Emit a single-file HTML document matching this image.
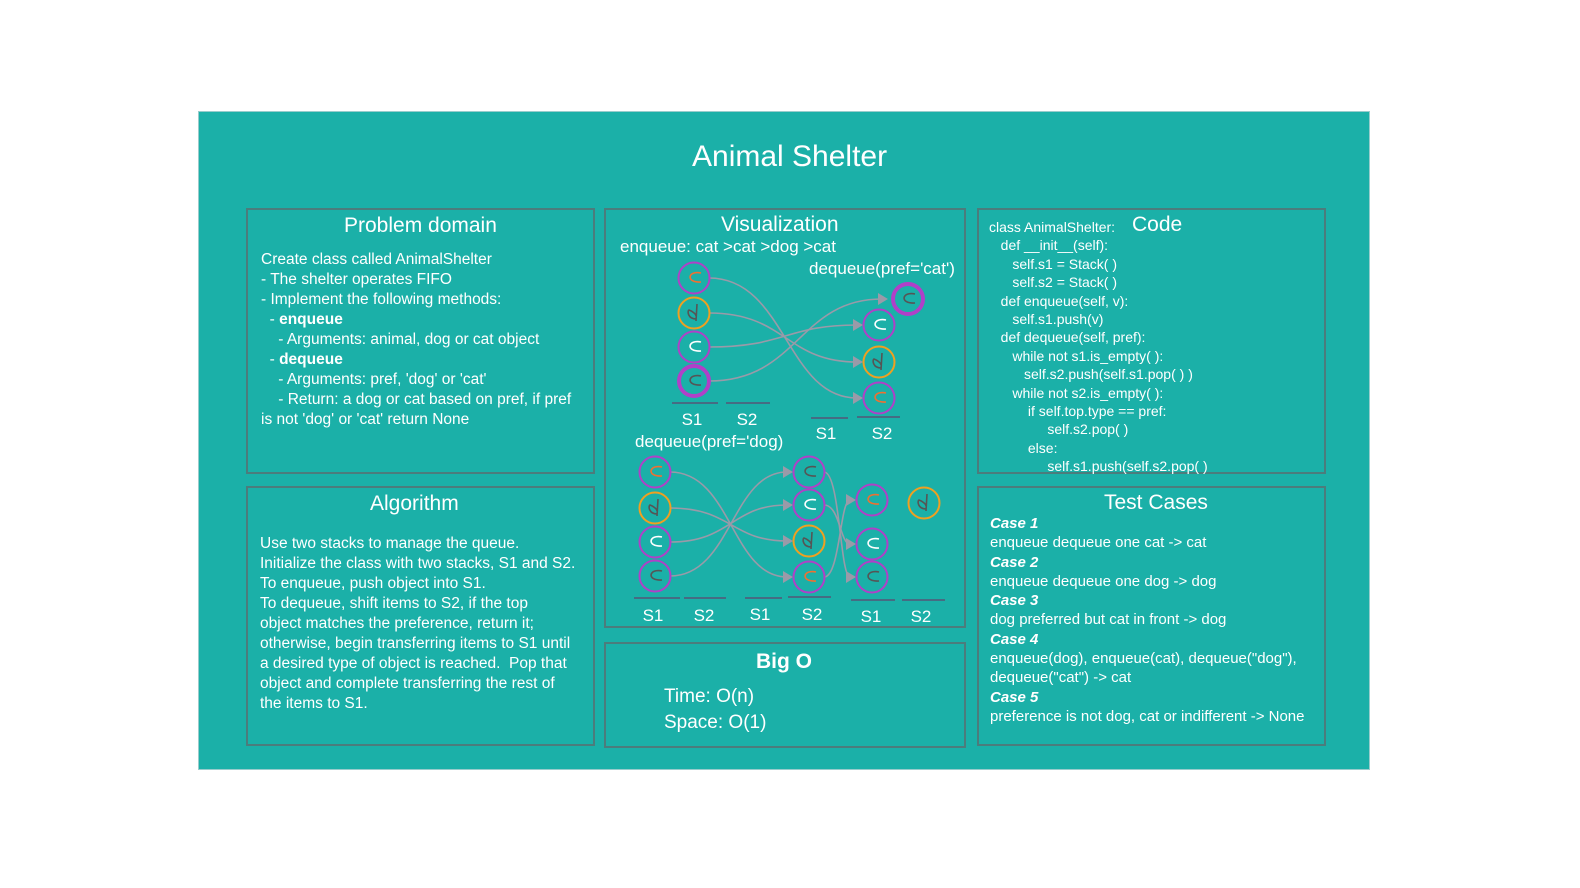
<!DOCTYPE html>
<html><head><meta charset="utf-8"><style>
html,body{margin:0;padding:0;width:1580px;height:888px;overflow:hidden}
body{background:#fff;position:relative;font-family:"Liberation Sans",sans-serif;color:#fff}
#board{position:absolute;left:198px;top:111px;width:1172px;height:659px;background:#1bb0a8;border:1px solid #9cc;box-sizing:border-box}
.box{position:absolute;border:2px solid #4c7c7c;box-sizing:border-box}
.t{position:absolute;font-size:21px;white-space:nowrap}
.p{position:absolute;font-size:15.5px;line-height:20px;white-space:nowrap}
svg{position:absolute;left:0;top:0}
</style></head><body>
<div id="board">
<div class="t" style="left:493px;top:28px;font-size:30px">Animal Shelter</div>
</div>
<div class="box" style="left:246px;top:208px;width:349px;height:266px"></div>
<div class="t" style="left:344px;top:214px">Problem domain</div>
<div class="p" style="left:261px;top:250px">Create class called AnimalShelter<br>- The shelter operates FIFO<br>- Implement the following methods:<br>&nbsp;&nbsp;- <b>enqueue</b><br>&nbsp;&nbsp;&nbsp;&nbsp;- Arguments: animal, dog or cat object<br>&nbsp;&nbsp;- <b>dequeue</b><br>&nbsp;&nbsp;&nbsp;&nbsp;- Arguments: pref, 'dog' or 'cat'<br>&nbsp;&nbsp;&nbsp;&nbsp;- Return: a dog or cat based on pref, if pref<br>is not 'dog' or 'cat' return None</div>
<div class="box" style="left:246px;top:486px;width:349px;height:260px"></div>
<div class="t" style="left:370px;top:492px">Algorithm</div>
<div class="p" style="left:260px;top:534px">Use two stacks to manage the queue.<br>Initialize the class with two stacks, S1 and S2.<br>To enqueue, push object into S1.<br>To dequeue, shift items to S2, if the top<br>object matches the preference, return it;<br>otherwise, begin transferring items to S1 until<br>a desired type of object is reached.&nbsp; Pop that<br>object and complete transferring the rest of<br>the items to S1.</div>
<div class="box" style="left:604px;top:208px;width:362px;height:420px"></div>
<div class="t" style="left:721px;top:213px">Visualization</div>
<div class="p" style="left:620px;top:237px;font-size:17px">enqueue: cat &gt;cat &gt;dog &gt;cat</div>
<div class="p" style="left:809px;top:259px;font-size:17px">dequeue(pref='cat')</div>
<div class="p" style="left:635px;top:432px;font-size:17px">dequeue(pref='dog)</div>
<div class="box" style="left:604px;top:642px;width:362px;height:106px"></div>
<div class="t" style="left:756px;top:650px;font-weight:bold">Big O</div>
<div class="p" style="left:664px;top:684px;font-size:19px;line-height:26px">Time: O(n)<br>Space: O(1)</div>
<div class="box" style="left:977px;top:208px;width:349px;height:266px"></div>
<div class="t" style="left:1132px;top:213px">Code</div>
<div class="p" style="left:989px;top:218px;font-size:14px;line-height:18.4px">class AnimalShelter:<br>&nbsp;&nbsp;&nbsp;def __init__(self):<br>&nbsp;&nbsp;&nbsp;&nbsp;&nbsp;&nbsp;self.s1 = Stack( )<br>&nbsp;&nbsp;&nbsp;&nbsp;&nbsp;&nbsp;self.s2 = Stack( )<br>&nbsp;&nbsp;&nbsp;def enqueue(self, v):<br>&nbsp;&nbsp;&nbsp;&nbsp;&nbsp;&nbsp;self.s1.push(v)<br>&nbsp;&nbsp;&nbsp;def dequeue(self, pref):<br>&nbsp;&nbsp;&nbsp;&nbsp;&nbsp;&nbsp;while not s1.is_empty( ):<br>&nbsp;&nbsp;&nbsp;&nbsp;&nbsp;&nbsp;&nbsp;&nbsp;&nbsp;self.s2.push(self.s1.pop( ) )<br>&nbsp;&nbsp;&nbsp;&nbsp;&nbsp;&nbsp;while not s2.is_empty( ):<br>&nbsp;&nbsp;&nbsp;&nbsp;&nbsp;&nbsp;&nbsp;&nbsp;&nbsp;&nbsp;if self.top.type == pref:<br>&nbsp;&nbsp;&nbsp;&nbsp;&nbsp;&nbsp;&nbsp;&nbsp;&nbsp;&nbsp;&nbsp;&nbsp;&nbsp;&nbsp;&nbsp;self.s2.pop( )<br>&nbsp;&nbsp;&nbsp;&nbsp;&nbsp;&nbsp;&nbsp;&nbsp;&nbsp;&nbsp;else:<br>&nbsp;&nbsp;&nbsp;&nbsp;&nbsp;&nbsp;&nbsp;&nbsp;&nbsp;&nbsp;&nbsp;&nbsp;&nbsp;&nbsp;&nbsp;self.s1.push(self.s2.pop( )</div>
<div class="box" style="left:977px;top:486px;width:349px;height:260px"></div>
<div class="t" style="left:1104px;top:491px">Test Cases</div>
<div class="p" style="left:990px;top:514px;line-height:19.3px;font-size:15px"><b><i>Case 1</i></b><br>enqueue dequeue one cat -&gt; cat<br><b><i>Case 2</i></b><br>enqueue dequeue one dog -&gt; dog<br><b><i>Case 3</i></b><br>dog preferred but cat in front -&gt; dog<br><b><i>Case 4</i></b><br>enqueue(dog), enqueue(cat), dequeue("dog"),<br>dequeue("cat") -&gt; cat<br><b><i>Case 5</i></b><br>preference is not dog, cat or indifferent -&gt; None</div>
<svg id="viz" width="1580" height="888"></svg>
<script>
const NS='http://www.w3.org/2000/svg';
const svg=document.getElementById('viz');
function el(t,a){const e=document.createElementNS(NS,t);for(const k in a)e.setAttribute(k,a[k]);svg.appendChild(e);return e;}
// animals: [x,y,type,iconColor,thick]
const animals=[
[694,278,'cat','#f07030',0],[694,313,'dog','#555',0],[694,347,'cat','#fff',0],[694,381,'cat','#555',1],
[908,299,'cat','#555',1],[879,325,'cat','#fff',0],[879,362,'dog','#555',0],[879,398,'cat','#f07030',0],
[655,472,'cat','#f07030',0],[655,508,'dog','#555',0],[655,542,'cat','#fff',0],[655,576,'cat','#555',0],
[809,472,'cat','#555',0],[809,505,'cat','#fff',0],[809,541,'dog','#555',0],[809,577,'cat','#f07030',0],
[872,500,'cat','#f07030',0],[872,544,'cat','#fff',0],[872,577,'cat','#555',0],[924,503,'dog','#555',0]];
const links=[[0,7],[1,6],[2,5],[3,4],[8,15],[9,14],[10,13],[11,12],[15,16],[13,17],[12,18]];
links.forEach(([a,b])=>{const A=animals[a],B=animals[b];
 const x1=A[0]+15,y1=A[1],x2=B[0]-(B[4]?20:16),y2=B[1],m=(x2-x1)/2;
 const p=el('path',{d:`M${x1},${y1} C${x1+m},${y1} ${x2-m},${y2} ${x2-6},${y2}`,fill:'none',stroke:'#9a9aa8','stroke-width':1.6});
 
 el('polygon',{points:`${x2},${y2} ${x2-10},${y2-6} ${x2-10},${y2+6}`,fill:'#9a9aa8'});});
animals.forEach(([x,y,t,c,th])=>{
 const r=th?15:15.5;
 const g=el('circle',{cx:x,cy:y,r:r,fill:'none',stroke:t==='dog'?'#f0a020':'#b040c8','stroke-width':th?4:2});
 
 if(t==='cat')el('path',{d:`M${x+7},${y-5} C${x-6},${y-8} ${x-9},${y+5} ${x+7},${y+4}`,fill:'none',stroke:c,'stroke-width':1.6});
 else el('path',{d:`M${x+3},${y-9} L${x+2},${y+8} M${x+2},${y+6} C${x-6},${y+6} ${x-7},${y-2} ${x-5},${y-3} C${x-2},${y-2} ${x+2},${y+1} ${x+2},${y+3}`,fill:'none',stroke:c,'stroke-width':1.6});
});
const bases=[[672,718,403,'S1',692,425],[726,770,403,'S2',747,425],[811,848,418,'S1',826,439],[857,900,417,'S2',882,439],
[634,680,598,'S1',653,621],[684,726,598,'S2',704,621],[745,782,598,'S1',760,620],[788,831,597,'S2',812,620],[851,895,600,'S1',871,622],[902,945,600,'S2',921,622]];
bases.forEach(([a,b,y,l,tx,ty])=>{el('line',{x1:a,y1:y,x2:b,y2:y,stroke:'#557','stroke-width':1.5});
 const t=el('text',{x:tx,y:ty,'text-anchor':'middle',fill:'#fff','font-size':17,'font-family':'Liberation Sans, sans-serif'});t.textContent=l;
 });
</script>
</body></html>
